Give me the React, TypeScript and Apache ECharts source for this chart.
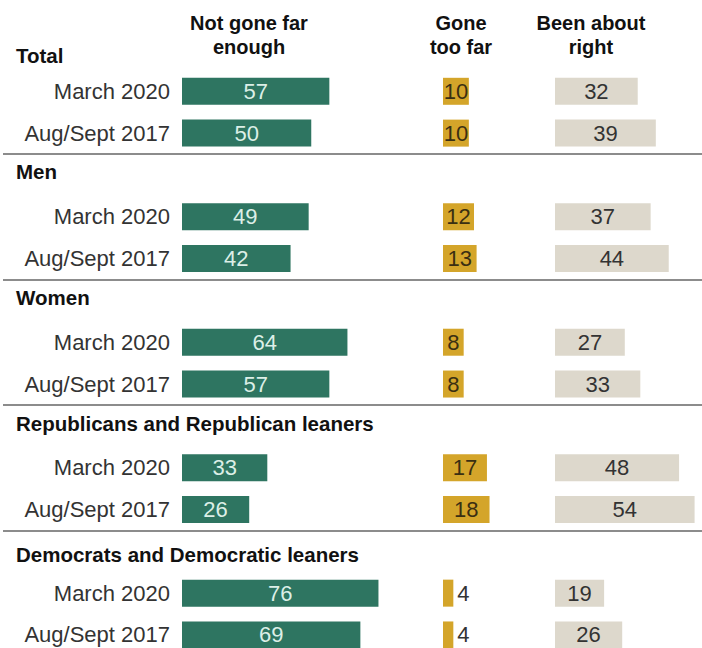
import React, { useEffect, useRef } from 'react';
import * as echarts from 'echarts';

const groups = ['Total', 'Men', 'Women', 'Republicans and Republican leaners', 'Democrats and Democratic leaners'];
const waves = ['March 2020', 'Aug/Sept 2017'];
const columnTitles = ['Not gone far\nenough', 'Gone\ntoo far', 'Been about\nright'];
// order: Total(Mar20, Aug17), Men(...), Women(...), Rep(...), Dem(...)
const notFarEnough = [57, 50, 49, 42, 64, 57, 33, 26, 76, 69];
const goneTooFar = [10, 10, 12, 13, 8, 8, 17, 18, 4, 4];
const aboutRight = [32, 39, 37, 44, 27, 33, 48, 54, 19, 26];

const FONT = '"Liberation Sans", Arial, sans-serif';
const K = 2.585; // px per percentage point
const SLOT = 41.82;
const TOP = 91.3 - SLOT * 1.5;
const NSLOT = groups.length * 3;
const COL_LEFT = [182, 443, 555];
const COL_MAX = [80, 20, 55];
const COL_CENTER = [249, 461, 591];
const COLORS = ['#2e7561', '#d4a52a', '#ddd8cc'];
const LABEL_COLORS = ['#dcefe7', '#3a2f12', '#333333'];
const HEADER_SHIFT = [6.5, -3, -3, -2, 3]; // vertical nudge of group headers (px)

const keys: string[] = [];
groups.forEach((g) => {
  keys.push('H|' + g);
  waves.forEach((w) => keys.push('R|' + g + '|' + w));
});

function buildData(arr: number[], col: number) {
  const out: any[] = [];
  groups.forEach((_, gi) => {
    out.push('-');
    for (let wi = 0; wi < waves.length; wi++) {
      const v = arr[gi * waves.length + wi];
      if (col === 1 && v < 6) {
        out.push({ value: v, label: { position: 'right', distance: 4, color: '#333333' } });
      } else {
        out.push(v);
      }
    }
  });
  return out;
}

export default function App() {
  const ref = useRef<HTMLDivElement>(null);
  useEffect(() => {
    if (!ref.current) return;
    const chart = echarts.init(ref.current, null, { renderer: 'svg' });
    const series = [notFarEnough, goneTooFar, aboutRight].map((arr, i) => ({
      type: 'bar',
      xAxisIndex: i + 1,
      yAxisIndex: i + 1,
      data: buildData(arr, i),
      barWidth: 27,
      itemStyle: { color: COLORS[i] },
      label: {
        show: true,
        position: 'inside',
        color: LABEL_COLORS[i],
        fontFamily: FONT,
        fontSize: 22,
      },
      silent: true,
    }));
    const grids = [
      { left: 3, width: 699, top: TOP, height: SLOT * NSLOT, outerBoundsMode: 'none' },
      ...COL_LEFT.map((l, i) => ({
        left: l,
        width: COL_MAX[i] * K,
        top: TOP,
        height: SLOT * NSLOT,
        outerBoundsMode: 'none',
      })),
    ];
    const xAxes = grids.map((_, i) => ({
      type: 'value',
      gridIndex: i,
      min: 0,
      max: i === 0 ? 100 : COL_MAX[i - 1],
      show: false,
    }));
    const yBase = {
      type: 'category',
      inverse: true,
      data: keys,
      axisLine: { show: false },
      axisTick: { show: false },
    };
    const rich: Record<string, any> = {};
    HEADER_SHIFT.forEach((s, i) => {
      const p = Math.abs(s) * 2;
      rich['h' + i] = {
        fontFamily: FONT,
        fontWeight: 'bold',
        fontSize: 20.5,
        color: '#111111',
        padding: s >= 0 ? [p, 0, 0, 0] : [0, 0, p, 0],
      };
    });
    const yAxes: any[] = [
      {
        ...yBase,
        gridIndex: 0,
        axisLabel: {
          interval: 0,
          align: 'left',
          margin: -13,
          formatter: (v: string) => {
            if (!v.startsWith('H|')) return '';
            const name = v.slice(2);
            return '{h' + groups.indexOf(name) + '|' + name + '}';
          },
          rich,
        },
        splitLine: {
          show: true,
          interval: (index: number) => index > 0 && index < NSLOT && index % 3 === 0,
          lineStyle: { color: '#8c8c8c', width: 2 },
        },
      },
      {
        ...yBase,
        gridIndex: 1,
        axisLabel: {
          interval: 0,
          margin: 12,
          fontFamily: FONT,
          fontSize: 22,
          color: '#333333',
          formatter: (v: string) => (v.startsWith('R|') ? v.split('|')[2] : ''),
        },
      },
      { ...yBase, gridIndex: 2, axisLabel: { show: false } },
      { ...yBase, gridIndex: 3, axisLabel: { show: false } },
    ];
    chart.setOption({
      animation: false,
      backgroundColor: '#ffffff',
      grid: grids,
      xAxis: xAxes,
      yAxis: yAxes,
      series,
      graphic: columnTitles.map((t, i) => ({
        type: 'text',
        x: COL_CENTER[i],
        y: 11,
        style: {
          text: t,
          align: 'center',
          textAlign: 'center',
          verticalAlign: 'top',
          textVerticalAlign: 'top',
          fontFamily: FONT,
          fontWeight: 'bold',
          fontSize: 20,
          lineHeight: 24,
          fill: '#111111',
        },
      })),
    });
    return () => chart.dispose();
  }, []);
  return <div ref={ref} style={{ position: 'absolute', left: 0, top: 0, width: 702, height: 648 }} />;
}
